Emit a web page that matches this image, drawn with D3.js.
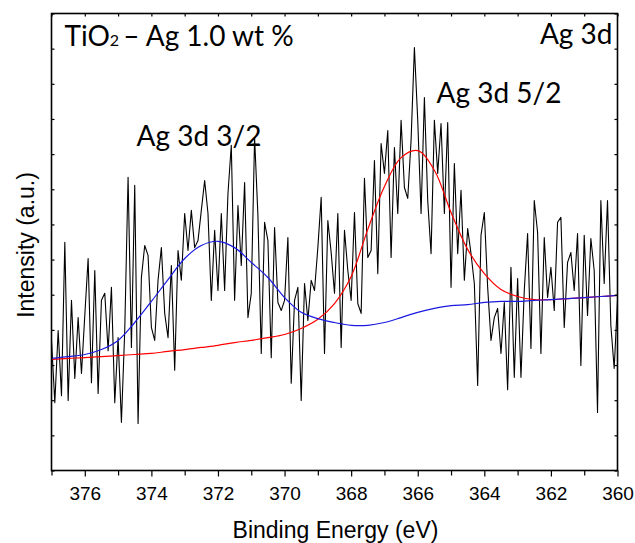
<!DOCTYPE html>
<html>
<head>
<meta charset="utf-8">
<script src="https://cdnjs.cloudflare.com/ajax/libs/d3/7.8.5/d3.min.js"></script>
<style>
body { margin: 0; background: #fff; }
</style>
</head>
<body>
<div id="chart"></div>
<script>
// raw XPS counts, Ag 3d region, 377.0 -> 360.0 eV in 0.1 eV steps
const rawCounts = [
    370, 193, 398, 213, 649, 199, 484, 262, 435, 276,
    441, 603, 250, 569, 219, 484, 504, 341, 521, 193,
    378, 137, 398, 834, 350, 811, 134, 549, 640, 612,
    407, 370, 541, 634, 447, 378, 583, 285, 626, 541,
    731, 626, 740, 634, 654, 740, 825, 731, 484, 683,
    512, 731, 512, 788, 925, 484, 754, 583, 819, 435,
    504, 947, 725, 333, 706, 654, 321, 691, 478, 455,
    484, 663, 248, 484, 521, 199, 532, 427, 541, 512,
    634, 777, 333, 711, 620, 504, 731, 350, 683, 569,
    484, 734, 475, 447, 831, 606, 626, 882, 560, 930,
    845, 967, 606, 919, 731, 996, 805, 774, 939, 1203,
    996, 731, 1061, 768, 617, 996, 845, 987, 731, 990,
    521, 873, 617, 797, 541, 688, 617, 532, 242, 669,
    734, 521, 370, 435, 461, 333, 478, 230, 578, 265,
    546, 265, 512, 674, 347, 768, 677, 333, 663, 492,
    578, 455, 706, 720, 407, 592, 620, 512, 674, 299,
    669, 441, 660, 569, 165, 768, 532, 768, 413, 290,
    484
];
const energyStart = 377;
const energyStep = 0.1;

// fitted components, read every 0.5 eV
const fitEnergy = [
    377, 376.5, 376, 375.5, 375, 374.5, 374, 373.5, 373, 372.5,
    372, 371.5, 371, 370.5, 370, 369.5, 369, 368.5, 368, 367.5,
    367, 366.5, 366, 365.5, 365, 364.5, 364, 363.5, 363, 362.5,
    362, 361.5, 361, 360.5, 360
];
const fitAg3d32 = [
    319, 324, 330, 344, 370, 421, 481, 543, 603, 640,
    652, 634, 592, 549, 492, 450, 432, 421, 413, 413,
    421, 435, 450, 461, 469, 472, 478, 481, 481, 484,
    486, 489, 492, 495, 498
];
const fitAg3d52 = [
    316, 319, 321, 324, 327, 330, 333, 339, 344, 350,
    356, 364, 370, 378, 387, 404, 430, 475, 552, 686,
    808, 890, 910, 854, 734, 629, 560, 515, 495, 486,
    486, 489, 492, 495, 498
];

const xMajorTicks = [376, 374, 372, 370, 368, 366, 364, 362, 360];
const xMinorTicks = [377, 375, 373, 371, 369, 367, 365, 363, 361];
const xAllTicks = [377, 376, 375, 374, 373, 372, 371, 370, 369, 368, 367, 366, 365, 364, 363, 362, 361, 360];
const yTicks = [0, 100, 200, 300, 400, 500, 600, 700, 800, 900, 1000, 1100, 1200, 1300];

const margin = {top: 13.5, right: 17.5, bottom: 72.5, left: 51.5};
const width = 635 - margin.left - margin.right;
const height = 543 - margin.top - margin.bottom;

const x = d3.scaleLinear().domain([377, 360]).range([0, width]);
const y = d3.scaleLinear().domain([0, 1300]).range([height, 0]);

const svg = d3.select("#chart").append("svg")
    .attr("width", 635)
    .attr("height", 543)
    .append("g")
        .attr("transform", `translate(${margin.left}, ${margin.top})`);

const spectrum = rawCounts.map(function(v, i) {
    return {x: +(energyStart - i * energyStep).toFixed(1), y: v};
});
const peak32 = fitEnergy.map(function(e, i) { return {x: e, y: fitAg3d32[i]}; });
const peak52 = fitEnergy.map(function(e, i) { return {x: e, y: fitAg3d52[i]}; });

svg.append("clipPath").attr("id", "plot-clip")
    .append("rect").attr("width", width).attr("height", height);

const rawLine = d3.line()
    .x(function(d) { return x(d.x); })
    .y(function(d) { return y(d.y); });

const fitLine = d3.line()
    .curve(d3.curveCatmullRom.alpha(0.5))
    .x(function(d) { return x(d.x); })
    .y(function(d) { return y(d.y); });

const plot = svg.append("g").attr("clip-path", "url(#plot-clip)");

plot.append("path")
    .attr("d", rawLine(spectrum))
    .style("fill", "none")
    .style("stroke", "#000")
    .style("stroke-width", "1.1px")
    .style("stroke-linejoin", "round");

plot.append("path")
    .attr("d", fitLine(peak52))
    .style("fill", "none")
    .style("stroke", "#ff0000")
    .style("stroke-width", "1.2px");

plot.append("path")
    .attr("d", fitLine(peak32))
    .style("fill", "none")
    .style("stroke", "#1a1ae0")
    .style("stroke-width", "1.2px");

// axes
const axisFont = "'Liberation Sans', Arial, sans-serif";

const xAxis = svg.append("g")
    .attr("class", "x axis")
    .attr("transform", "translate(0," + height + ")")
    .call(d3.axisBottom(x).tickValues(xMajorTicks).tickSize(6).tickPadding(5).tickFormat(d3.format("d")));
xAxis.selectAll(".tick text")
    .style("font-family", axisFont)
    .style("font-size", "19px")
    .attr("dy", "0.95em");

svg.append("g")
    .attr("class", "x minor")
    .attr("transform", "translate(0," + height + ")")
    .call(d3.axisBottom(x).tickValues(xMinorTicks).tickSize(5).tickFormat(""));

svg.append("g")
    .attr("class", "x top")
    .call(d3.axisBottom(x).tickValues(xAllTicks).tickSize(3).tickFormat(""));

svg.append("g")
    .attr("class", "y axis")
    .call(d3.axisRight(y).tickValues(yTicks).tickSize(3).tickFormat(""));

svg.append("g")
    .attr("class", "y right")
    .attr("transform", "translate(" + width + ",0)")
    .call(d3.axisLeft(y).tickValues(yTicks).tickSize(3).tickFormat(""));

svg.selectAll(".domain").remove();
svg.selectAll(".tick line").style("stroke", "#000").style("stroke-width", "1.2px");

svg.append("rect")
    .attr("width", width)
    .attr("height", height)
    .style("fill", "none")
    .style("stroke", "#000")
    .style("stroke-width", "1.6px");

// axis titles
svg.append("text")
    .attr("x", width / 2 + 1)
    .attr("y", height + 67)
    .attr("text-anchor", "middle")
    .style("font-family", axisFont)
    .style("font-size", "23px")
    .text("Binding Energy (eV)");

svg.append("text")
    .attr("transform", "translate(-18," + (height / 2 + 3) + ") rotate(-90)")
    .attr("text-anchor", "middle")
    .style("font-family", axisFont)
    .style("font-size", "23px")
    .text("Intensity (a.u.)");

// annotations
const noteFont = "Lato, 'Open Sans', sans-serif";

const title = svg.append("text")
    .attr("x", 13)
    .attr("y", 32)
    .style("font-family", noteFont)
    .style("font-size", "28px");
title.append("tspan").text("TiO");
title.append("tspan").style("font-size", "16px").text("2 ");
title.append("tspan").text("\u2013 Ag 1.0 wt %");

svg.append("text")
    .attr("x", width - 5)
    .attr("y", 30)
    .attr("text-anchor", "end")
    .style("font-family", noteFont)
    .style("font-size", "28px")
    .text("Ag 3d");

svg.append("text")
    .attr("x", 385)
    .attr("y", 89)
    .style("font-family", noteFont)
    .style("font-size", "28px")
    .text("Ag 3d 5/2");

svg.append("text")
    .attr("x", 85)
    .attr("y", 132)
    .style("font-family", noteFont)
    .style("font-size", "28px")
    .text("Ag 3d 3/2");
</script>
</body>
</html>
